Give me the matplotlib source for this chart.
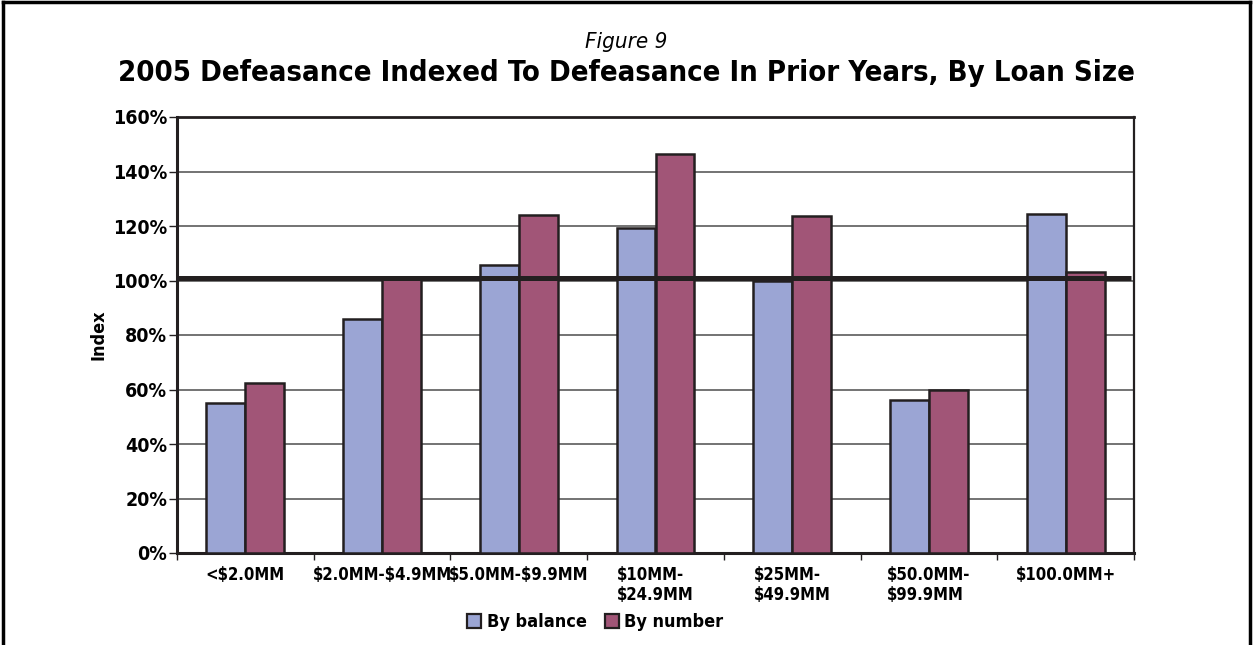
import numpy as np
import matplotlib.pyplot as plt
from matplotlib.patches import Patch
from matplotlib.lines import Line2D

# loan size buckets and index values (% of prior-year defeasance)
categories = ["<\\$2.0MM", "\\$2.0MM-\\$4.9MM", "\\$5.0MM-\\$9.9MM",
              "\\$10MM-\n\\$24.9MM", "\\$25MM-\n\\$49.9MM",
              "\\$50.0MM-\n\\$99.9MM", "\\$100.0MM+"]
by_balance = [55.0, 85.7, 105.6, 119.3, 99.9, 56.2, 124.3]
by_number = [62.4, 100.7, 124.2, 146.6, 123.7, 59.9, 103.2]
baseline = 101
yticks = [0, 20, 40, 60, 80, 100, 120, 140, 160]

col_bal = "#9ba5d4"
col_num = "#a15577"
dark = "#231f20"

plt.rcParams["font.family"] = ["DejaVu Sans"]
plt.rcParams["font.stretch"] = "condensed"

fig = plt.figure(figsize=(12.53, 6.45), dpi=100)
ax = fig.add_axes([177 / 1253, 92 / 645, 957 / 1253, 436 / 645])

x = np.arange(len(categories))
w = 0.285
ax.bar(x - w / 2, by_balance, w, color=col_bal, edgecolor=dark, linewidth=1.8, zorder=3)
ax.bar(x + w / 2, by_number, w, color=col_num, edgecolor=dark, linewidth=1.8, zorder=3)
ax.plot([-0.5, len(categories) - 0.52], [baseline, baseline], color=dark, lw=3.6,
        zorder=4, solid_capstyle="butt")

ax.set_xlim(-0.5, len(categories) - 0.5)
ax.set_ylim(0, 160)
ax.set_yticks(yticks)
ax.set_yticklabels([f"{v}%" for v in yticks], fontsize=14, fontweight="bold")
ax.yaxis.grid(True, color="#4d4d4d", lw=1.1, zorder=0)
ax.set_axisbelow(True)

ax.set_xticks(x)
ax.set_xticklabels(categories, fontsize=12, fontweight="bold", linespacing=1.15,
                   multialignment="left")
ax.set_xticks(np.arange(len(categories) + 1) - 0.5, minor=True)
ax.tick_params(axis="x", which="major", length=0, pad=9)
ax.tick_params(axis="x", which="minor", length=5, width=1, color=dark, direction="out")
ax.tick_params(axis="y", length=6, width=1, color=dark, pad=1)

for side in ["left", "bottom", "top", "right"]:
    ax.spines[side].set_color(dark)
ax.spines["left"].set_linewidth(2.2)
ax.spines["bottom"].set_linewidth(2.2)
ax.spines["top"].set_linewidth(2.0)
ax.spines["right"].set_linewidth(1.6)

ax.set_ylabel("Index", fontsize=13, fontweight="bold", labelpad=4)

fig.text(0.5, 0.935, "Figure 9", ha="center", va="center", fontsize=16, style="italic")
fig.text(0.5, 0.887, "2005 Defeasance Indexed To Defeasance In Prior Years, By Loan Size",
         ha="center", va="center", fontsize=21, fontweight="bold")

handles = [Patch(facecolor=col_bal, edgecolor=dark, linewidth=1.6, label="By balance"),
           Patch(facecolor=col_num, edgecolor=dark, linewidth=1.6, label="By number")]
fig.legend(handles=handles, loc="center", bbox_to_anchor=(0.475, 0.035), ncol=2,
           frameon=False, prop={"weight": "bold", "size": 13, "stretch": "condensed"},
           handlelength=0.8, handleheight=0.8, handletextpad=0.3, columnspacing=1.0)

# page frame: left, top and right edges
frame = dict(color="black", lw=2.5, transform=fig.transFigure)
fig.add_artist(Line2D([0.002, 0.002], [0, 0.997], **frame))
fig.add_artist(Line2D([0.002, 0.998], [0.997, 0.997], **frame))
fig.add_artist(Line2D([0.998, 0.998], [0, 0.997], **frame))

fig.savefig("out.png", dpi=100)
